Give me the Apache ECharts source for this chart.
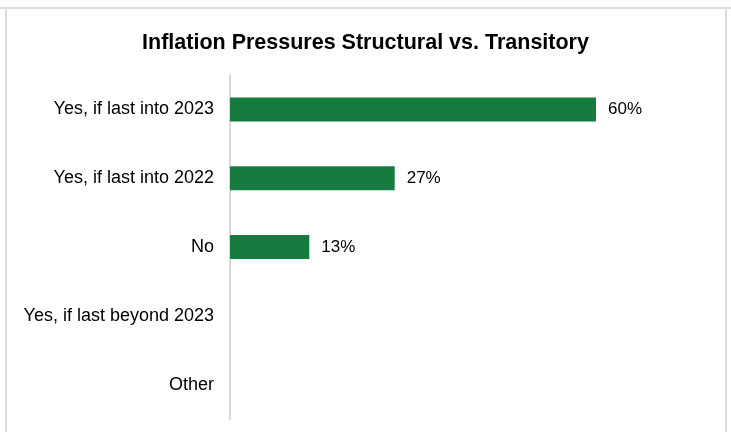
<!DOCTYPE html>
<html>
<head>
<meta charset="utf-8">
<style>
  html, body { margin: 0; padding: 0; background: #ffffff; }
  #chart { width: 731px; height: 432px; }
</style>
<script src="https://cdn.jsdelivr.net/npm/echarts@6/dist/echarts.min.js"></script>
</head>
<body>
<div id="chart"></div>
<script>
// Survey answers, top to bottom
const categories = [
  'Yes, if last into 2023',
  'Yes, if last into 2022',
  'No',
  'Yes, if last beyond 2023',
  'Other'
];
// Share of respondents, percent (empty answers stay blank)
const shares = [60, 27, 13, null, null];

const chart = echarts.init(document.getElementById('chart'), null, { renderer: 'canvas' });

chart.setOption({
  backgroundColor: '#ffffff',
  animation: false,
  title: {
    text: 'Inflation Pressures Structural vs. Transitory',
    left: 'center',
    top: 27,
    textStyle: {
      fontFamily: 'Liberation Sans, Arial, sans-serif',
      fontSize: 21.5,
      fontWeight: 'bold',
      color: '#000000'
    }
  },
  grid: {
    left: 230,
    right: 13,
    top: 75,
    bottom: 13,
    containLabel: false
  },
  xAxis: {
    type: 'value',
    min: 0,
    max: 80,
    show: false
  },
  yAxis: {
    type: 'category',
    data: categories,
    inverse: true,
    axisLine: { show: true, lineStyle: { color: '#d9d9d9', width: 2 } },
    axisTick: { show: false },
    axisLabel: {
      margin: 16,
      color: '#000000',
      fontFamily: 'Liberation Sans, Arial, sans-serif',
      fontSize: 18
    }
  },
  series: [{
    type: 'bar',
    data: shares,
    barWidth: 24,
    itemStyle: { color: '#157b3e' },
    label: {
      show: true,
      position: 'right',
      distance: 12,
      formatter: p => p.value == null ? '' : p.value + '%',
      color: '#000000',
      fontFamily: 'Liberation Sans, Arial, sans-serif',
      fontSize: 17
    }
  }],
  graphic: [
    { type: 'line', shape: { x1: 0, y1: 8, x2: 731, y2: 8 }, style: { stroke: '#dcdcdc', lineWidth: 2 } },
    { type: 'line', shape: { x1: 6, y1: 8, x2: 6, y2: 432 }, style: { stroke: '#dcdcdc', lineWidth: 2 } },
    { type: 'line', shape: { x1: 726, y1: 8, x2: 726, y2: 432 }, style: { stroke: '#dcdcdc', lineWidth: 2 } }
  ]
});
</script>
</body>
</html>
